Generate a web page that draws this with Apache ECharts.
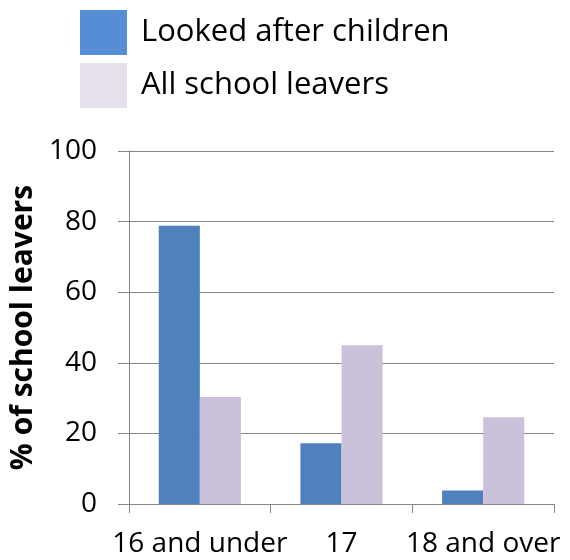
<!DOCTYPE html>
<html>
<head>
<meta charset="utf-8">
<script src="https://cdn.jsdelivr.net/npm/echarts@6/dist/echarts.min.js"></script>
<style>
  html, body { margin: 0; padding: 0; background: #fff; }
  #chart { width: 570px; height: 560px; }
</style>
</head>
<body>
<div id="chart"></div>
<script>
// categories + values
const categories = ['16 and under', '17', '18 and over']
const lookedAfter = [78.8, 17.2, 3.8]
const allLeavers = [30.3, 45.0, 24.6]
const yTicks = [0, 20, 40, 60, 80, 100]

const font = '"Open Sans", sans-serif'
const gray = '#868686'

let chart = echarts.init(document.getElementById('chart'))
chart.setOption({
  animation: false,
  textStyle: { fontFamily: font },
  legend: {
    orient: 'vertical',
    left: 80,
    top: 10,
    padding: 0,
    icon: 'rect',
    itemWidth: 47,
    itemHeight: 45,
    itemGap: 8,
    textStyle: { fontSize: 31, color: '#000', fontFamily: font, padding: [0, 0, 0, 9] },
    data: [
      { name: 'Looked after children', itemStyle: { color: '#558ED5' } },
      { name: 'All school leavers', itemStyle: { color: '#E6E0EC' } }
    ]
  },
  grid: { left: 129, right: 16, top: 151, bottom: 56 },
  xAxis: {
    type: 'category',
    data: categories,
    axisLine: { lineStyle: { color: gray } },
    axisTick: { show: true, length: 9, lineStyle: { color: gray } },
    axisLabel: { color: '#000', fontSize: 28, margin: 26, interval: 0, fontFamily: font },
  },
  yAxis: {
    type: 'value',
    min: yTicks[0],
    max: yTicks[yTicks.length - 1],
    interval: 20,
    name: '% of school leavers',
    nameLocation: 'middle',
    nameGap: 87,
    nameTextStyle: { fontSize: 30, fontWeight: 'bold', color: '#000', fontFamily: font },
    axisLine: { show: true, lineStyle: { color: gray } },
    axisTick: { show: true, length: 11, lineStyle: { color: gray } },
    axisLabel: { color: '#000', fontSize: 28, margin: 32, fontFamily: font },
    splitLine: { lineStyle: { color: gray } }
  },
  series: [
    {
      name: 'Looked after children',
      type: 'bar',
      data: lookedAfter,
      barGap: '0%',
      barCategoryGap: '42%',
      itemStyle: { color: '#4F81BD' }
    },
    {
      name: 'All school leavers',
      type: 'bar',
      data: allLeavers,
      itemStyle: { color: '#CCC1DA' }
    }
  ]
})
</script>
</body>
</html>
